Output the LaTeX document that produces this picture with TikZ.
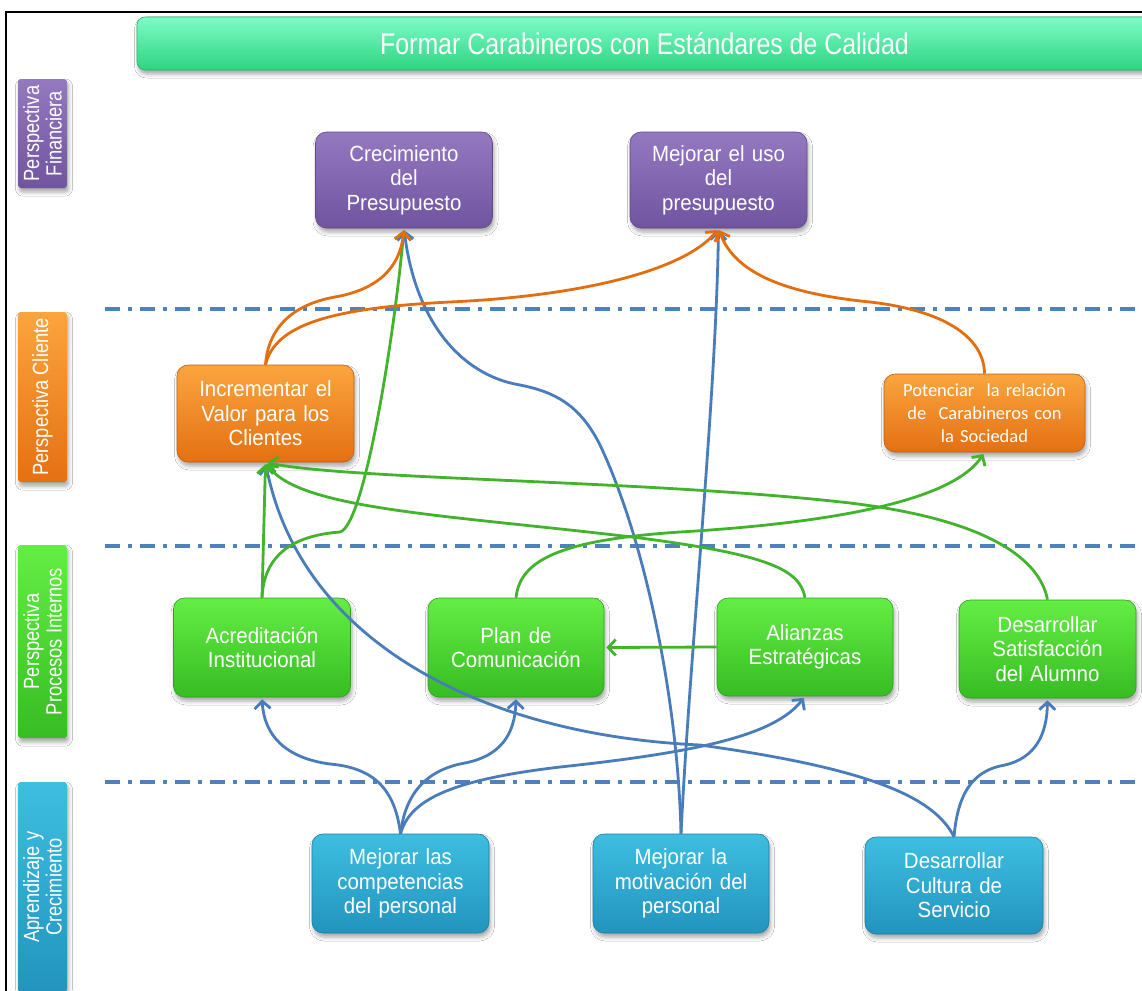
\documentclass[tikz,border=0pt]{standalone}
\usepackage{fontspec}
\setmainfont{Liberation Sans}
\newfontfamily\nodefont[FakeStretch=0.93]{Liberation Sans}
\newfontfamily\narrowfont[FakeStretch=0.83]{Liberation Sans}
\newfontfamily\calfont{Carlito}
\usetikzlibrary{arrows.meta,shadows.blur}
\definecolor{puT}{RGB}{148,120,192}
\definecolor{puB}{RGB}{112,84,160}
\definecolor{orT}{RGB}{251,165,62}
\definecolor{orB}{RGB}{228,112,18}
\definecolor{grT}{RGB}{100,238,68}
\definecolor{grB}{RGB}{55,188,35}
\definecolor{blT}{RGB}{62,190,225}
\definecolor{blB}{RGB}{34,148,190}
\definecolor{tiT}{RGB}{125,252,200}
\definecolor{tiB}{RGB}{45,212,128}
\definecolor{orLine}{RGB}{228,110,15}
\definecolor{grLine}{RGB}{66,180,44}
\definecolor{blLine}{RGB}{72,124,186}
\definecolor{sepCol}{RGB}{79,129,189}
\begin{document}
\begin{tikzpicture}[x=1pt,y=-1pt,
  shade/.style={blur shadow={shadow xshift=1.5pt,shadow yshift=-4pt,shadow opacity=35,shadow blur radius=4pt}},
  box/.style={shade,rounded corners=11pt,minimum width=177pt,minimum height=98pt,text width=172pt,
    align=center,inner sep=0pt,text=white,font=\nodefont\fontsize{22}{24.5}\selectfont},
  purpbox/.style={box,top color=puT,bottom color=puB,draw=puB!85!black,line width=0.6pt},
  orbox/.style={box,top color=orT,bottom color=orB,draw=orB!85!black,line width=0.6pt},
  grbox/.style={box,top color=grT,bottom color=grB,draw=grB!85!black,line width=0.6pt},
  blbox/.style={box,top color=blT,bottom color=blB,draw=blB!85!black,line width=0.6pt},
  sidelab/.style={shade,rounded corners=3pt,rotate=90,minimum height=49pt,inner sep=0pt,align=center,
    text=white,font=\narrowfont\fontsize{22}{22.5}\selectfont},
  sepline/.style={sepCol,line width=3.2pt,dash pattern=on 15pt off 8pt on 4pt off 8pt},
  conn/.style={line width=2.8pt,-{Straight Barb[length=7.5pt,width=16pt]},shorten >=2pt},
  oa/.style={conn,orLine},
  ga/.style={conn,grLine},
  ba/.style={conn,blLine}]
\useasboundingbox (0,0) rectangle (1142,990);
\fill[white] (0,0) rectangle (1142,990);
\draw[line width=2pt] (6,992) -- (6,12) -- (1144,12);

% title
\node[shade,rounded corners=8pt,minimum width=1015pt,minimum height=53pt,inner sep=0pt,
  top color=tiT,bottom color=tiB,draw=tiB!85!black,line width=0.6pt,text=white,
  font=\narrowfont\fontsize{30}{32}\selectfont] (title) at (644.5,43.5) {Formar Carabineros con Estándares de Calidad};

% side labels
\node[sidelab,minimum width=109pt,top color=puT,bottom color=puB] (lfin) at (42.5,133.5) {Perspectiva\\Financiera};
\node[sidelab,minimum width=170pt,top color=orT,bottom color=orB] (lcli) at (42.5,397) {Perspectiva Cliente};
\node[sidelab,minimum width=193pt,top color=grT,bottom color=grB] (lpro) at (42.5,641.5) {Perspectiva\\Procesos Internos};
\node[sidelab,minimum width=210pt,top color=blT,bottom color=blB] (lapr) at (42.5,887) {Aprendizaje y\\Crecimiento};

% separators
\coordinate (s1a) at (105,309); \coordinate (s1b) at (1142,309);
\coordinate (s2a) at (105,546); \coordinate (s2b) at (1142,546);
\coordinate (s3a) at (105,782); \coordinate (s3b) at (1142,782);
\draw[sepline] (s1a) -- (s1b);
\draw[sepline] (s2a) -- (s2b);
\draw[sepline] (s3a) -- (s3b);

% nodes
\node[purpbox,minimum height=96pt] (cre) at (404,180) {Crecimiento\\del\\Presupuesto};
\node[purpbox,minimum height=96pt] (mej) at (718.5,180) {Mejorar el uso\\del\\presupuesto};
\node[orbox,minimum height=97pt] (inc) at (265.5,413.5) {Incrementar el\\Valor para los\\Clientes};
\node[orbox,minimum width=201pt,minimum height=78pt,text width=195pt,
  font=\calfont\fontsize{18.5}{23}\selectfont] (pot) at (984.5,413) {Potenciar~ la relación\\de~ Carabineros con\\la Sociedad};
\node[grbox,minimum height=99pt] (acr) at (262,647.5) {Acreditación\\Institucional};
\node[grbox,minimum width=176pt,minimum height=99pt] (plan) at (516,647.5) {Plan de\\Comunicación};
\node[grbox,minimum width=176pt] (ali) at (805,647) {Alianzas\\Estratégicas};
\node[grbox] (sat) at (1047.5,649) {Desarrollar\\Satisfacción\\del Alumno};
\node[blbox,minimum height=99pt] (comp) at (400.5,883.5) {Mejorar las\\competencias\\del personal};
\node[blbox,minimum width=176pt,minimum height=99pt] (mot) at (681,883.5) {Mejorar la\\motivación del\\personal};
\node[blbox,minimum width=178pt,minimum height=97pt] (cul) at (954,885.5) {Desarrollar\\Cultura de\\Servicio};

% blue connectors
\draw[ba] (comp.north) .. controls (395,790) and (375,768) .. (330,764) .. controls (285,758) and (264,735) .. (acr.south);
\draw[ba] (comp.north) .. controls (405,795) and (425,770) .. (465,763) .. controls (500,756) and (515,735) .. (plan.south);
\draw[ba] (comp.north) .. controls (410,800) and (450,780) .. (560,767) .. controls (700,752) and (775,735) .. (ali.south);
\draw[ba] (mot.north) .. controls (690,650) and (716,400) .. (mej.south);
\draw[ba] (mot.north) .. controls (678,700) and (645,540) .. (600,445) .. controls (580,405) and (555,392) .. (520,385) .. controls (460,375) and (415,320) .. (cre.south);
\draw[ba] (cul.north) .. controls (935,800) and (880,770) .. (700,745) .. controls (480,735) and (300,640) .. (inc.south);
\draw[ba] (cul.north) .. controls (958,790) and (975,770) .. (1005,765) .. controls (1035,758) and (1047,735) .. (sat.south);

% green connectors
\draw[ga] (acr.north) -- (inc.south);
\draw[ga] (acr.north) .. controls (264,550) and (300,535) .. (340,532) .. controls (365,525) and (395,330) .. (cre.south);
\draw[ga] (plan.north) .. controls (520,560) and (560,540) .. (680,532) .. controls (880,520) and (960,490) .. (pot.south);
\draw[ga] (ali.north) .. controls (800,570) and (770,555) .. (640,538) .. controls (450,515) and (300,510) .. (inc.south);
\draw[ga] (sat.north) .. controls (1040,560) and (990,520) .. (850,503) .. controls (650,480) and (350,480) .. (inc.south);
\draw[ga] (ali.west) -- (plan.east);

% orange connectors
\draw[oa] (inc.north) .. controls (268,330) and (290,305) .. (335,297) .. controls (375,290) and (400,270) .. (cre.south);
\draw[oa] (inc.north) .. controls (275,325) and (330,308) .. (450,302) .. controls (600,295) and (690,265) .. (mej.south);
\draw[oa] (pot.north) .. controls (984,335) and (940,310) .. (870,302) .. controls (790,294) and (735,275) .. (mej.south);
\end{tikzpicture}
\end{document}
